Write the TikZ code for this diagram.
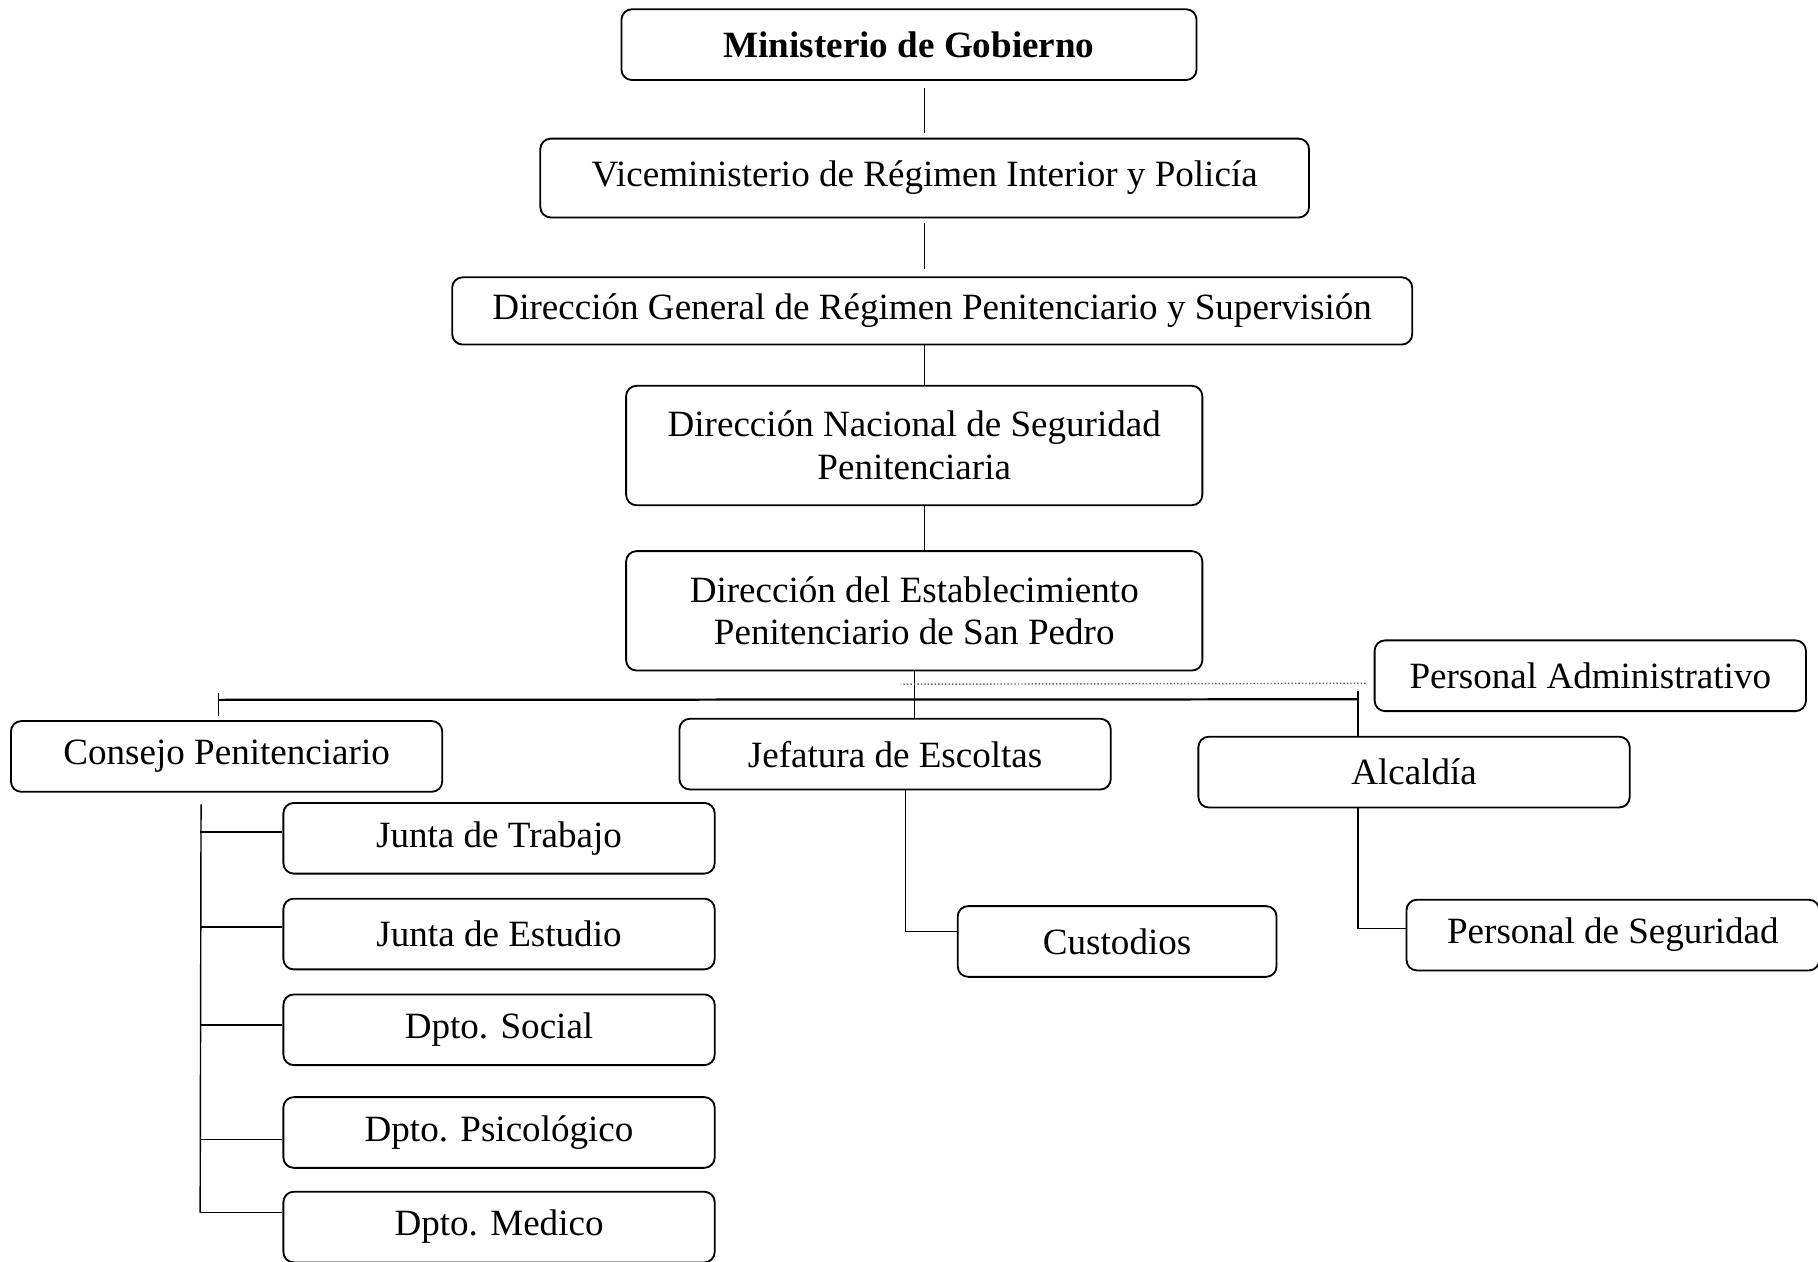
\documentclass[tikz,border=0pt]{standalone}
\usepackage{fontspec}
\setmainfont{Liberation Serif}
\usetikzlibrary{positioning,calc}

\begin{document}
\begin{tikzpicture}[
        font=\fontsize{18.2}{21}\selectfont,
        unit/.style={
            draw=black,
            rounded corners=1.8mm,
            line width=0.9pt,
            align=center,
            inner sep=0pt,
            minimum width=74.4mm,
            minimum height=12.2mm
        },
        twoline/.style={unit, minimum width=99.4mm, minimum height=20.6mm},
        link/.style={line width=0.7pt, draw=black},
        gap/.style={shorten <=0.8mm, shorten >=1.2mm},
        mainbar/.style={line width=1.1pt, draw=black},
        dotline/.style={densely dotted, line width=0.7pt, draw=black!60}
    ]
    \useasboundingbox (0,0) rectangle (31.36,-21.76);

    % Step 1: line of command down to the prison
    \node[unit, minimum width=99.2mm] (min) at (15.68,-0.77) {\bfseries Ministerio de Gobierno};
    \node[unit, minimum width=132.6mm, minimum height=13.6mm,
        below=9.8mm of min, xshift=2.7mm] (vice) {Viceministerio de Régimen Interior y Policía};
    \node[unit, minimum width=165.6mm, minimum height=11.6mm,
        below=10mm of vice, xshift=1.3mm] (dg) {Dirección General de Régimen Penitenciario y Supervisión};
    \node[twoline, below=6.8mm of dg, xshift=-3.1mm] (dn) {Dirección Nacional de Seguridad\\Penitenciaria};
    \node[twoline, below=7.6mm of dn] (de) {Dirección del Establecimiento\\Penitenciario de San Pedro};

    \draw[link, gap] (vice.north) -- (vice.north |- min.south);
    \draw[link, gap] (vice.south) -- (vice.south |- dg.north);
    \draw[link] (vice |- dg.south) -- (vice |- dn.north);
    \draw[link] (vice |- dn.south) -- (vice |- de.north);

    % Step 2: units under the prison direction
    \node[unit, right=29.4mm of de, yshift=-11.2mm] (padm) {Personal Administrativo};
    \node[unit, below=8mm of de, xshift=-3.3mm] (jef) {Jefatura de Escoltas};
    \node[unit, left=40.6mm of jef, yshift=-0.4mm] (cons) {Consejo Penitenciario};
    \node[unit, right=14.8mm of jef, yshift=-3.1mm] (alc) {Alcaldía};

    \coordinate (lbar) at ($(cons.north)+(-1.4mm,3.5mm)$);
    \coordinate (rbar) at ($(alc.north)+(-9.7mm,6.3mm)$);

    \draw[mainbar] (lbar) -- (rbar);
    \draw[link] ($(lbar)+(0,1.2mm)$) -- ($(lbar |- cons.north)+(0,0.8mm)$);
    \draw[link] ($(rbar)+(0,1.5mm)$) -- (rbar |- alc.north);
    \draw[link] (de.south) -- (de.south |- jef.north);
    \draw[dotline] ($(padm.west)+(-1.4mm,-1.3mm)$) -- ($(de.south)+(-2.3mm,-2.2mm)$);

    % Step 3: offices of the council
    \node[unit, below=1.6mm of cons, xshift=47mm] (jt) {Junta de Trabajo};
    \node[unit, below=4mm of jt] (je) {Junta de Estudio};
    \node[unit, below=4mm of je] (ds) {Dpto. Social};
    \node[unit, below=5.2mm of ds] (dp) {Dpto. Psicológico};
    \node[unit, below=3.8mm of dp] (dm) {Dpto. Medico};

    \draw[link] ($(cons.south)+(-4.4mm,-2mm)$) -- ($(dm.west)+(-14.2mm,2.5mm)$);
    \foreach \b/\dy in {jt/1.1, je/1.2, ds/0.8, dp/-1.2, dm/2.5}
        \draw[link] ($(\b.west)+(0,\dy mm)$) -- ++(-14.2mm,0);

    % Step 4: staff under the escort chief and the warden
    \node[unit, minimum width=55mm, below=19.8mm of jef, xshift=38.3mm] (cust) {Custodios};
    \node[unit, minimum width=71.2mm, below=15.6mm of alc, xshift=34.3mm] (pseg) {Personal de Seguridad};

    \draw[link] ($(jef.south)+(1.8mm,0)$) |- ($(cust.west)+(0,1.7mm)$);
    \draw[link] (rbar |- alc.south) |- ($(pseg.west)+(0,1.1mm)$);

\end{tikzpicture}
\end{document}
